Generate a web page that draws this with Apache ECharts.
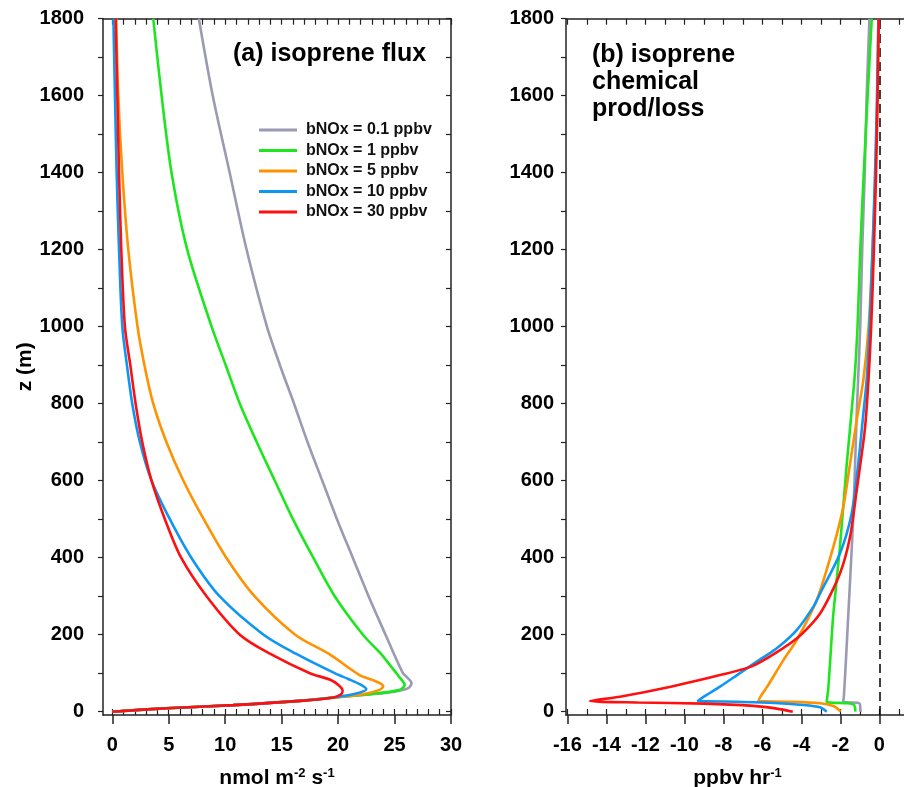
<!DOCTYPE html>
<html><head><meta charset="utf-8">
<script src="https://cdn.jsdelivr.net/npm/echarts@6/dist/echarts.min.js"></script>
<style>html,body{margin:0;padding:0;background:#fff}#c{width:904px;height:787px}</style>
</head><body><div id="c"></div>
<script>
// ---- series meta ----
const seriesNames = ['bNOx = 0.1 ppbv', 'bNOx = 1 ppbv', 'bNOx = 5 ppbv', 'bNOx = 10 ppbv', 'bNOx = 30 ppbv'];
const seriesColors = ['#9a9ab2', '#1ee61e', '#ff9200', '#0f96f5', '#ff1010'];

// ---- (a) isoprene flux (nmol m-2 s-1) vs z (m) ----
const fluxZ_01 = [0, 9, 17, 28, 37, 45, 52, 61, 74, 91, 100, 117, 150, 200, 300, 400, 500, 600, 700, 800, 900, 1000, 1200, 1400, 1600, 1800];
const fluxX_01 = [0, 4.8, 10.7, 16.6, 19.6, 22.8, 25.0, 26.2, 26.5, 26.05, 25.75, 25.46, 24.95, 24.2, 22.7, 21.3, 19.9, 18.6, 17.3, 16.1, 14.85, 13.7, 11.9, 10.4, 8.9, 7.67];
const fluxZ_1 = [0, 9, 17, 28, 37, 45, 56, 69, 91, 117, 150, 200, 300, 400, 500, 600, 700, 800, 900, 1000, 1200, 1400, 1600, 1800];
const fluxX_1 = [0, 4.8, 10.7, 16.6, 19.6, 22.6, 25.4, 25.9, 25.4, 24.7, 23.8, 22.2, 19.7, 17.8, 16.0, 14.4, 12.8, 11.3, 10.05, 8.8, 6.64, 5.25, 4.37, 3.63];
const fluxZ_5 = [0, 9, 17, 28, 37, 46, 56, 66, 74, 82, 95, 150, 200, 300, 400, 500, 600, 700, 800, 900, 1000, 1200, 1400, 1600, 1800];
const fluxX_5 = [0, 4.8, 10.7, 16.6, 19.8, 22.3, 23.6, 24.0, 23.7, 23.1, 21.9, 19.2, 16.2, 12.6, 10.1, 8.1, 6.3, 4.8, 3.63, 2.85, 2.24, 1.42, 0.89, 0.53, 0.35];
const fluxZ_10 = [0, 9, 17, 28, 37, 47, 58, 70, 85, 100, 150, 200, 300, 400, 500, 600, 700, 800, 900, 1000, 1200, 1400, 1600, 1800];
const fluxX_10 = [0, 4.8, 10.7, 16.6, 19.6, 21.6, 22.5, 22.0, 20.9, 19.7, 16.3, 13.4, 9.5, 7.0, 5.1, 3.48, 2.45, 1.77, 1.3, 0.89, 0.6, 0.39, 0.24, 0.1];
const fluxZ_30 = [0, 9, 17, 28, 37, 46, 55, 70, 83, 100, 150, 200, 300, 400, 500, 600, 700, 800, 900, 1000, 1200, 1400, 1600, 1800];
const fluxX_30 = [0, 4.8, 10.7, 16.6, 19.6, 20.3, 20.4, 20.0, 19.3, 17.5, 14.0, 11.3, 8.35, 6.1, 4.66, 3.48, 2.66, 2.07, 1.6, 1.12, 0.8, 0.6, 0.45, 0.3];

// ---- (b) isoprene chemical prod/loss (ppbv hr-1) vs z (m) ----
const chemZ_01 = [0, 10, 20, 23, 26, 40, 100, 255, 515, 775, 1000, 1200, 1400, 1600, 1800];
const chemX_01 = [-0.97, -0.98, -1.0, -1.1, -1.85, -1.82, -1.75, -1.59, -1.33, -1.16, -0.98, -0.88, -0.75, -0.65, -0.51];
const chemZ_1 = [0, 10, 18, 22, 26, 60, 150, 255, 429, 645, 862, 1000, 1200, 1400, 1600, 1800];
const chemX_1 = [-1.23, -1.25, -1.3, -1.6, -2.7, -2.62, -2.5, -2.36, -2.02, -1.67, -1.28, -1.12, -0.98, -0.8, -0.6, -0.39];
const chemZ_5 = [0, 4, 15, 22, 26, 28, 43, 65, 134, 186, 290, 428, 532, 645, 758, 862, 1000, 1200, 1400, 1600, 1800];
const chemX_5 = [-2.02, -2.05, -2.36, -3.04, -4.75, -6.2, -6.05, -5.75, -4.92, -4.24, -3.21, -2.36, -1.85, -1.5, -1.16, -0.82, -0.55, -0.35, -0.2, -0.1, -0.05];
const chemZ_10 = [0, 11.4, 17.4, 23.4, 26, 27.8, 39, 65, 95, 130, 165, 212, 273, 307, 411, 515, 645, 775, 862, 1000, 1200, 1400, 1600, 1800];
const chemX_10 = [-2.7, -3.04, -3.9, -5.6, -7.3, -9.31, -9.0, -8.17, -7.3, -6.29, -5.26, -4.24, -3.38, -3.04, -2.02, -1.42, -1.08, -0.82, -0.65, -0.5, -0.35, -0.22, -0.12, -0.05];
const chemZ_30 = [0, 8, 15, 21, 24, 27.5, 39, 65, 95, 121, 190, 255, 359, 455, 576, 730, 860, 1000, 1200, 1400, 1600, 1800];
const chemX_30 = [-4.44, -5.26, -6.46, -9.0, -12.4, -14.84, -13.3, -10.7, -8.17, -6.4, -4.24, -3.04, -2.02, -1.5, -1.16, -0.75, -0.56, -0.42, -0.28, -0.17, -0.09, -0.03];

// ---- ticks ----
const fluxTicks = [0, 5, 10, 15, 20, 25, 30];
const fluxMinorTicks = [0, 1, 2, 3, 4, 5, 6, 7, 8, 9, 10, 11, 12, 13, 14, 15, 16, 17, 18, 19, 20, 21, 22, 23, 24, 25, 26, 27, 28, 29, 30];
const chemTicks = [-16, -14, -12, -10, -8, -6, -4, -2, 0];
const chemMinorTicks = [-16, -15, -14, -13, -12, -11, -10, -9, -8, -7, -6, -5, -4, -3, -2, -1, 0, 1];
const zTicks = [0, 200, 400, 600, 800, 1000, 1200, 1400, 1600, 1800];
const zMinorTicks = [0, 100, 200, 300, 400, 500, 600, 700, 800, 900, 1000, 1100, 1200, 1300, 1400, 1500, 1600, 1700, 1800];

const fluxX = [fluxX_01, fluxX_1, fluxX_5, fluxX_10, fluxX_30];
const fluxZ = [fluxZ_01, fluxZ_1, fluxZ_5, fluxZ_10, fluxZ_30];
const chemX = [chemX_01, chemX_1, chemX_5, chemX_10, chemX_30];
const chemZ = [chemZ_01, chemZ_1, chemZ_5, chemZ_10, chemZ_30];

const FONT = 'Liberation Sans, Arial, sans-serif';
const AX = '#222';
const pairs = (xs, zs) => xs.map((x, i) => [x, zs[i]]);
const plain = v => String(v);

const lbl = {fontFamily: FONT, fontWeight: 'bold', fontSize: 20, color: '#000', formatter: plain};

function xMajor(grid, min, max, ticks, name) {
  return {gridIndex: grid, type: 'value', min, max, position: 'bottom',
    axisLine: {show: true, onZero: false, lineStyle: {color: AX, width: 1.5}},
    axisTick: {show: true, inside: false, length: 9, customValues: ticks, lineStyle: {color: AX, width: 1.5}},
    axisLabel: Object.assign({customValues: ticks, margin: 20}, lbl),
    splitLine: {show: false},
    name, nameLocation: 'middle', nameGap: 52,
    nameTextStyle: {fontFamily: FONT, fontWeight: 'bold', fontSize: 21, color: '#000',
      rich: {s: {fontFamily: FONT, fontWeight: 'bold', fontSize: 13, color: '#000', verticalAlign: 'top', padding: [0, 0, 10, 0]}}}
  };
}
function xMinor(grid, min, max, ticks, pos) {
  return {gridIndex: grid, type: 'value', min, max, position: pos,
    axisLine: {show: pos === 'top', onZero: false, lineStyle: {color: AX, width: 1.5}},
    axisTick: {show: true, inside: true, length: 6, customValues: ticks, lineStyle: {color: AX, width: 1.2}},
    axisLabel: {show: false}, splitLine: {show: false}};
}
function yMain(grid, margin, name) {
  const o = {gridIndex: grid, type: 'value', min: -8.6, max: 1800, position: 'left',
    axisLine: {show: true, onZero: false, lineStyle: {color: AX, width: 1.5}},
    axisTick: {show: true, inside: false, length: 5, customValues: zMinorTicks, lineStyle: {color: AX, width: 1.2}},
    axisLabel: Object.assign({customValues: zTicks, margin}, lbl),
    splitLine: {show: false}};
  if (name) {
    Object.assign(o, {name, nameLocation: 'middle', nameGap: 64,
      nameTextStyle: {fontFamily: FONT, fontWeight: 'bold', fontSize: 21, color: '#000'}});
  }
  return o;
}
function yRight(grid) {
  return {gridIndex: grid, type: 'value', min: -8.6, max: 1800, position: 'right',
    axisLine: {show: true, onZero: false, lineStyle: {color: AX, width: 1.5}},
    axisTick: {show: true, inside: true, length: 5, customValues: zMinorTicks, lineStyle: {color: AX, width: 1.2}},
    axisLabel: {show: false}, splitLine: {show: false}};
}

const series = [];
seriesNames.forEach((n, i) => {
  series.push({name: n, type: 'line', xAxisIndex: 0, yAxisIndex: 0,
    data: pairs(fluxX[i], fluxZ[i]), showSymbol: false, symbol: 'none',
    smooth: 0.3,
    lineStyle: {width: 2.6, color: seriesColors[i]}, itemStyle: {color: seriesColors[i]}, z: 3 + i});
});
seriesNames.forEach((n, i) => {
  const s = {name: n, type: 'line', xAxisIndex: 3, yAxisIndex: 2,
    data: pairs(chemX[i], chemZ[i]), showSymbol: false, symbol: 'none',
    smooth: 0.25,
    lineStyle: {width: 2.6, color: seriesColors[i]}, itemStyle: {color: seriesColors[i]}, z: 3 + i};
  if (i === 0) {
    s.markLine = {silent: true, symbol: 'none', label: {show: false},
      lineStyle: {type: [9, 5], color: '#000', width: 1.5},
      data: [{xAxis: 0}]};
  }
  series.push(s);
});

const option = {
  backgroundColor: '#fff',
  animation: false,
  grid: [
    {left: 103, top: 18.7, width: 348, height: 696.3, containLabel: false, outerBoundsMode: 'none'},
    {left: 566, top: 18.7, width: 343, height: 696.3, containLabel: false, outerBoundsMode: 'none'}
  ],
  title: [
    {text: '(a) isoprene flux', left: 233, top: 42, padding: 0,
      textStyle: {fontFamily: FONT, fontWeight: 'bold', fontSize: 25, color: '#000'}},
    {text: '(b) isoprene\nchemical\nprod/loss', left: 592, top: 42, padding: 0,
      textStyle: {fontFamily: FONT, fontWeight: 'bold', fontSize: 25, color: '#000', lineHeight: 27}}
  ],
  legend: {data: seriesNames, orient: 'vertical', left: 259, top: 122, icon: 'rect',
    itemWidth: 38, itemHeight: 3, itemGap: 4.5, padding: 0,
    textStyle: {fontFamily: FONT, fontWeight: 'bold', fontSize: 16, color: '#111', padding: [0, 0, 0, 4]}},
  xAxis: [
    xMajor(0, -0.82, 30, fluxTicks, 'nmol m{s|-2} s{s|-1}'),
    xMinor(0, -0.82, 30, fluxMinorTicks, 'bottom'),
    xMinor(0, -0.82, 30, fluxMinorTicks, 'top'),
    xMajor(1, -16.07, 1.52, chemTicks, 'ppbv hr{s|-1}'),
    xMinor(1, -16.07, 1.52, chemMinorTicks, 'bottom'),
    xMinor(1, -16.07, 1.52, chemMinorTicks, 'top')
  ],
  yAxis: [
    yMain(0, 19, 'z (m)'),
    yRight(0),
    yMain(1, 12, null),
    yRight(1)
  ],
  series
};
const chart = echarts.init(document.getElementById('c'), null, {renderer: 'canvas'});
chart.setOption(option);
</script>
</body></html>
